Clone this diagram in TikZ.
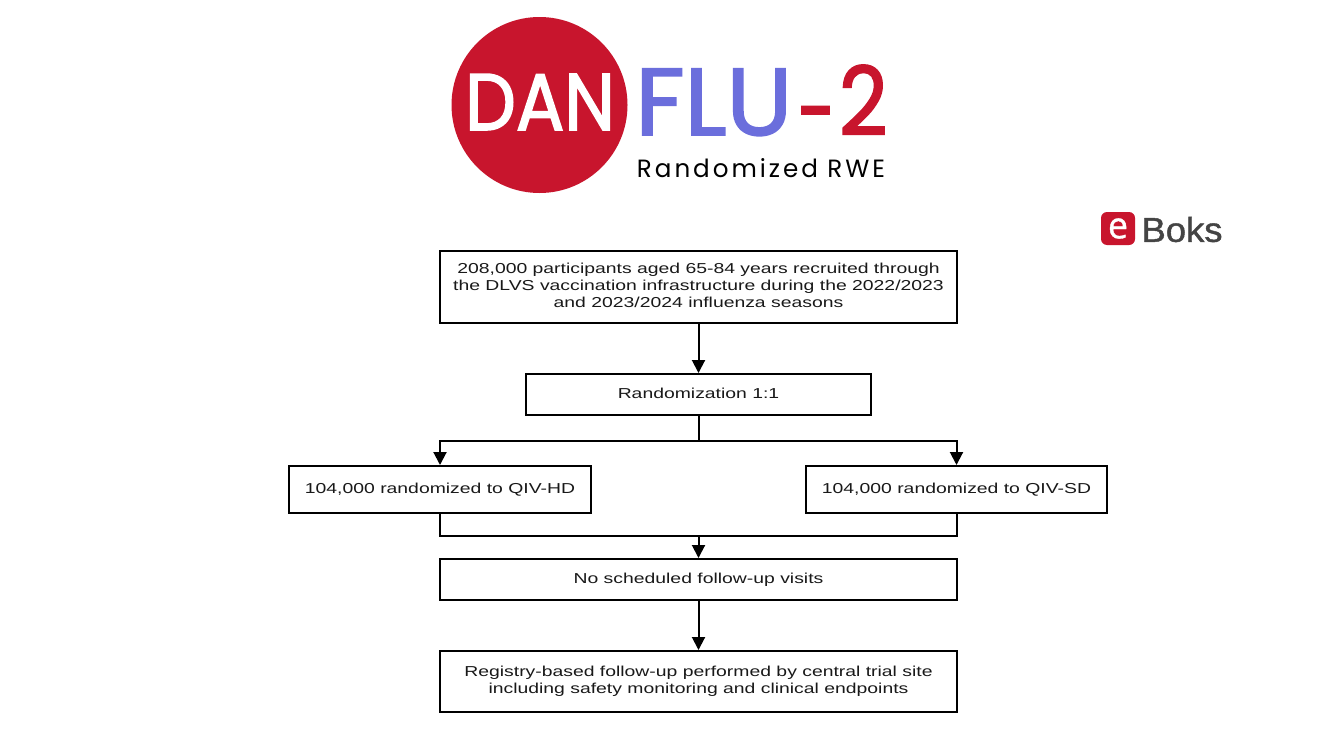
\documentclass[tikz,border=0pt]{standalone}
\usepackage{fontspec}
\usepackage{graphicx}
\usetikzlibrary{arrows.meta}
\setmainfont{Liberation Sans}
\newfontfamily\boxfont[FakeStretch=1.345]{Liberation Sans}
\newfontfamily\logofont[FakeBold=2]{Poppins}
\newfontfamily\tagfont[LetterSpace=12]{Poppins}
\newfontfamily\boksfont[FakeBold=1.2]{Liberation Sans}
\newfontfamily\efont[FakeBold=1]{Open Sans}
\definecolor{danred}{HTML}{C8152D}
\definecolor{flublue}{HTML}{6B6EDC}
\definecolor{boksgrey}{HTML}{444444}
\tikzset{
  x=1pt,y=-1pt,
  flowbox/.style={draw=black,line width=2pt,fill=white,inner sep=0pt,align=center,
    font=\boxfont\fontsize{14.4}{17}\selectfont,text=black!90},
  flowline/.style={draw=black,line width=2pt},
  flowarrow/.style={flowline,-{Triangle[length=13pt,width=13pt]}},
  logotext/.style={inner sep=0pt,outer sep=0pt}
}
\begin{document}
\begin{tikzpicture}
\useasboundingbox (0,0) rectangle (1333,750);
\fill[white] (0,0) rectangle (1333,750);
% logo
\fill[danred] (539.5,105) circle (88);
\node[logotext,text=white,anchor=center] (dan) at (540,102) {\resizebox{150pt}{56pt}{\logofont DAN}};
\node[logotext,anchor=center] (flu) at (761.5,105) {\resizebox{252pt}{70pt}{\logofont\textcolor{flublue}{\scalebox{1.06}[1]{FLU}}\hspace{0.6pt}\textcolor{danred}{\raisebox{-1.05pt}{\scalebox{0.75}[1]{-}}}\hspace{0.35pt}\textcolor{danred}{\scalebox{0.92}[1]{2}}}};
\node[logotext,anchor=center] (tag) at (761,168) {\resizebox{248pt}{19pt}{\tagfont Randomized RWE}};
% eboks
\node[fill=danred,rounded corners=6pt,minimum width=34pt,minimum height=33pt,inner sep=0pt] (ebox) at (1118,228.5) {};
\node[logotext,text=white,anchor=center] (e) at (1118,228.5) {\resizebox{20pt}{20pt}{\efont e}};
\node[logotext,text=boksgrey,anchor=center] (boks) at (1182,229.5) {\resizebox{81pt}{25pt}{\boksfont Boks}};
% boxes
\node[flowbox,minimum width=517pt,minimum height=72pt] (top) at (698.5,287) {\raisebox{1.5pt}{\begin{tabular}{@{}c@{}}208,000 participants aged 65-84 years recruited through\\[-0.0pt]the DLVS vaccination infrastructure during the 2022/2023\\and 2023/2024 influenza seasons\end{tabular}}};
\node[flowbox,minimum width=345pt,minimum height=41pt] (rand) at (698.5,394.5) {\raisebox{2pt}{Randomization 1:1}};
\node[flowbox,minimum width=302pt,minimum height=47pt] (hd) at (440,489.5) {104,000 randomized to QIV-HD};
\node[flowbox,minimum width=301pt,minimum height=47pt] (sd) at (956.5,489.5) {104,000 randomized to QIV-SD};
\node[flowbox,minimum width=517pt,minimum height=41pt] (none) at (698.5,579.5) {\raisebox{2pt}{No scheduled follow-up visits}};
\node[flowbox,minimum width=517pt,minimum height=61pt] (reg) at (698.5,681.5) {Registry-based follow-up performed by central trial site\\including safety monitoring and clinical endpoints};
\coordinate (split) at (698.5,441);
\coordinate (merge) at (698.5,536);
\draw[flowarrow] (top) -- (rand);
\draw[flowline] (rand) -- (split);
\draw[flowarrow] (split) -| (hd);
\draw[flowarrow] (split) -| (sd);
\draw[flowline] (hd) |- (merge);
\draw[flowline] (sd) |- (merge);
\draw[flowarrow] (merge) -- (none);
\draw[flowarrow] (none) -- (reg);
\end{tikzpicture}
\end{document}
